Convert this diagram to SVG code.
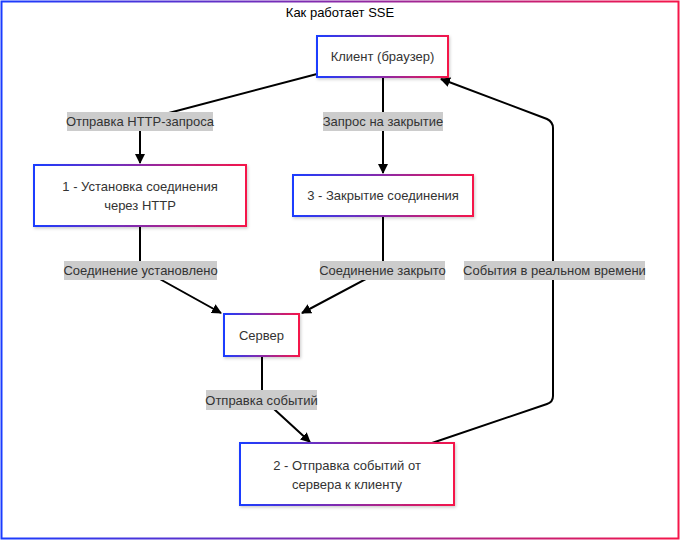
<svg xmlns="http://www.w3.org/2000/svg" width="680" height="541" viewBox="0 0 680 541">
<defs>
<linearGradient id="g" x1="0" y1="0" x2="1" y2="0">
<stop offset="0" stop-color="#1a3cff"/>
<stop offset="0.5" stop-color="#8a2aa8"/>
<stop offset="1" stop-color="#f5164a"/>
</linearGradient>
<filter id="sh" x="-10%" y="-10%" width="130%" height="140%">
<feDropShadow dx="1" dy="1.5" stdDeviation="1.5" flood-color="#000" flood-opacity="0.2"/>
</filter>
<marker id="arr" viewBox="0 0 10 10" refX="9" refY="5" markerWidth="10" markerHeight="10" markerUnits="userSpaceOnUse" orient="auto">
<path d="M0,0 L10,5 L0,10 Z" fill="#000"/>
</marker>
<style>
text{font-family:"Liberation Sans",Arial,sans-serif;font-size:13px;fill:#333;text-anchor:middle;dominant-baseline:central}
.node rect{fill:#fff;stroke:url(#g);stroke-width:2;filter:url(#sh)}
.edge{fill:none;stroke:#000;stroke-width:2}
.lbl rect{fill:#cccccc}
</style>
</defs>
<rect x="1.5" y="1.5" width="677" height="537" fill="#fff" stroke="url(#g)" stroke-width="2"/>
<text x="340" y="12" style="fill:#000">Как работает SSE</text>
<g id="connectors">
<path class="edge" d="M317,74 L146,119 Q140,121 140,127 L140,163" marker-end="url(#arr)"/>
<path class="edge" d="M383,77 L383,173" marker-end="url(#arr)"/>
<path class="edge" d="M140,226 L140,268 L221,313" marker-end="url(#arr)"/>
<path class="edge" d="M383,216 L383,270 L302,313" marker-end="url(#arr)"/>
<path class="edge" d="M262,356 L262,398 L310,442" marker-end="url(#arr)"/>
<path class="edge" d="M432,443 L547,404 Q553,402 553,396 L553,128 Q553,122 547,119 L441,79" marker-end="url(#arr)"/>
<g class="lbl"><rect x="67" y="112" width="146" height="19"/><text x="140" y="121.5">Отправка HTTP-запроса</text></g>
<g class="lbl"><rect x="323" y="112" width="120" height="19"/><text x="383" y="121.5">Запрос на закрытие</text></g>
<g class="lbl"><rect x="64" y="261" width="153" height="19"/><text x="140.5" y="270.5">Соединение установлено</text></g>
<g class="lbl"><rect x="320" y="261" width="125" height="19"/><text x="382.5" y="270.5">Соединение закрыто</text></g>
<g class="lbl"><rect x="464" y="261" width="181" height="19"/><text x="554.5" y="270.5">События в реальном времени</text></g>
<g class="lbl"><rect x="206" y="390" width="111" height="20"/><text x="261.5" y="400">Отправка событий</text></g>
</g>
<g id="client" class="node"><rect x="317" y="36" width="131" height="41"/><text x="382.5" y="56.5">Клиент (браузер)</text></g>
<g id="step1" class="node"><rect x="34" y="165" width="212" height="61"/><text x="140" y="186.5">1 - Установка соединения</text><text x="140" y="205">через HTTP</text></g>
<g id="step3" class="node"><rect x="293" y="175" width="180" height="41"/><text x="383" y="195.5">3 - Закрытие соединения</text></g>
<g id="server" class="node"><rect x="224" y="314" width="75" height="42"/><text x="261.5" y="335">Сервер</text></g>
<g id="step2" class="node"><rect x="240" y="443" width="214" height="62"/><text x="347" y="465">2 - Отправка событий от</text><text x="347" y="484">сервера к клиенту</text></g>
</svg>
